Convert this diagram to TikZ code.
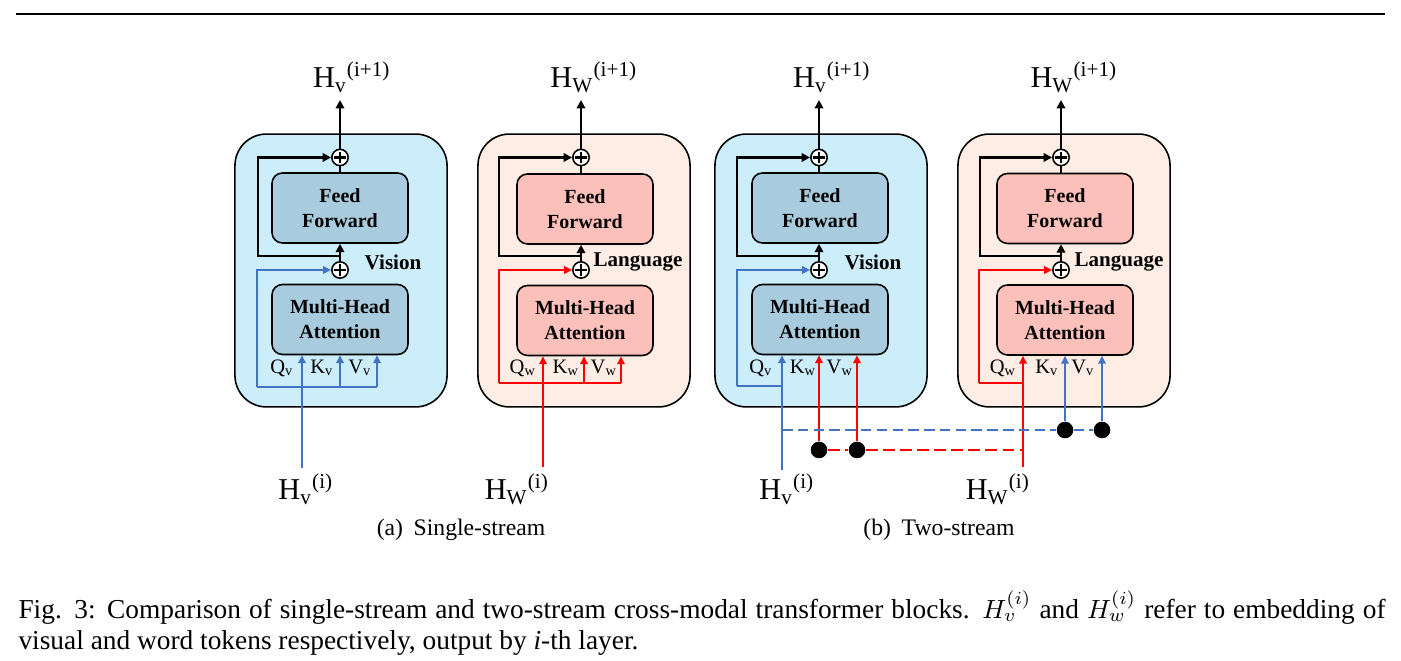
\documentclass[tikz,border=0pt]{standalone}
\usepackage[no-math]{fontspec}
\setmainfont{Liberation Serif}
\usetikzlibrary{arrows.meta, positioning, calc}
\definecolor{vsBg}{RGB}{204,237,250}
\definecolor{vsBox}{RGB}{168,204,222}
\definecolor{lgBg}{RGB}{253,237,228}
\definecolor{lgBox}{RGB}{252,192,186}
\definecolor{vsLine}{RGB}{68,114,196}
\definecolor{lgLine}{RGB}{255,0,0}
\newcommand{\hemb}[2]{H\textsubscript{#1}\textsuperscript{#2}}
\tikzset{
  outerbox/.style={rectangle, rounded corners=12pt, draw=black, line width=0.6pt,
    minimum width=80.6pt, minimum height=103.7pt, inner sep=0pt},
  visouter/.style={outerbox, fill=vsBg},
  lngouter/.style={outerbox, fill=lgBg},
  layerbox/.style={rectangle, rounded corners=4pt, draw=black, line width=0.6pt,
    minimum width=51.7pt, minimum height=26.6pt, inner sep=0pt, align=center,
    font=\fontsize{7.6}{9.5}\selectfont\bfseries},
  vislayer/.style={layerbox, fill=vsBox},
  lnglayer/.style={layerbox, fill=lgBox},
  addnode/.style={circle, draw=black, fill=white, line width=0.6pt, minimum size=6.2pt, inner sep=0pt,
    path picture={\draw[line width=0.8pt]
      ([xshift=-2.1pt]path picture bounding box.center) -- ([xshift=2.1pt]path picture bounding box.center)
      ([yshift=-2.1pt]path picture bounding box.center) -- ([yshift=2.1pt]path picture bounding box.center);}},
  dotnode/.style={circle, fill=black, minimum size=6.2pt, inner sep=0pt},
  hlabel/.style={font=\fontsize{11.5}{13}\selectfont, inner sep=1pt},
  qkvlabel/.style={font=\fontsize{7.8}{9}\selectfont, inner sep=0pt},
  tagtext/.style={font=\fontsize{8}{9}\selectfont\bfseries, inner sep=0pt},
  subcap/.style={font=\fontsize{9}{11}\selectfont, inner sep=0pt},
  blkline/.style={line width=1pt},
  blkarrow/.style={-{Triangle[length=3.2pt,width=3.2pt]}, line width=1pt},
  visline/.style={line width=0.75pt, color=vsLine},
  visarrow/.style={-{Triangle[length=3pt,width=2.8pt]}, line width=0.75pt, color=vsLine},
  lngline/.style={line width=0.75pt, color=lgLine},
  lngarrow/.style={-{Triangle[length=3pt,width=2.8pt]}, line width=0.75pt, color=lgLine},
  visdash/.style={line width=0.75pt, color=vsLine, dash pattern=on 4pt off 2pt},
  lngdash/.style={line width=0.9pt, color=lgLine, dash pattern=on 4.5pt off 2pt},
}

\begin{document}
\begin{tikzpicture}[x=0.38pt, y=-0.38pt]
\useasboundingbox (0,0) rectangle (1401,661);

%% TOP RULE
\draw[line width=0.8pt] (16,14) -- (1385,14);

%% (a) SINGLE-STREAM -- VISION
\node[visouter] (v1_blk) at (341,270.5) {};
\node[vislayer] (v1_ff)  at (340,208)   {Feed\\Forward};
\node[vislayer] (v1_mha) at (340,319.5) {Multi-Head\\Attention};
\node[addnode]  (v1_add1) at (340,270)  {};
\node[addnode]  (v1_add2) at (340,157.5) {};
\node[tagtext]  (v1_tag) at (393,262) {Vision};
\node[hlabel]   (v1_out) at (352,77)  {\hemb{v}{(i+1)}};
\node[hlabel]   (v1_in)  at (306,489) {\hemb{v}{(i)}};
\node[qkvlabel] (v1_qlab) at (282,368) {Q\textsubscript{v}};
\node[qkvlabel] (v1_klab) at (322,368) {K\textsubscript{v}};
\node[qkvlabel] (v1_vlab) at (360,368) {V\textsubscript{v}};
\coordinate (v1_top)   at (340,100);
\coordinate (v1_split) at (340,256);
\coordinate (v1_loop)  at (258,256);
\coordinate (v1_bus)   at (257,387);
\coordinate (v1_kb)    at (340,387);
\coordinate (v1_vb)    at (377,387);
\coordinate (v1_qs)    at (302,468);

%% (a) SINGLE-STREAM -- LANGUAGE
\node[lngouter] (w1_blk) at (584,270.5) {};
\node[lnglayer] (w1_ff)  at (585,209)   {Feed\\Forward};
\node[lnglayer] (w1_mha) at (585,320.5) {Multi-Head\\Attention};
\node[addnode]  (w1_add1) at (581,270)  {};
\node[addnode]  (w1_add2) at (581,157.5) {};
\node[tagtext]  (w1_tag) at (638,262) {Language};
\node[hlabel]   (w1_out) at (594,77)  {\hemb{W}{(i+1)}};
\node[hlabel]   (w1_in)  at (517,489) {\hemb{W}{(i)}};
\node[qkvlabel] (w1_qlab) at (523,368) {Q\textsubscript{w}};
\node[qkvlabel] (w1_klab) at (566,368) {K\textsubscript{w}};
\node[qkvlabel] (w1_vlab) at (604,368) {V\textsubscript{w}};
\coordinate (w1_top)   at (581,100);
\coordinate (w1_split) at (581,256);
\coordinate (w1_loop)  at (499,256);
\coordinate (w1_bus)   at (499,383);
\coordinate (w1_kb)    at (584,383);
\coordinate (w1_vb)    at (621,383);
\coordinate (w1_qs)    at (543,467);

%% (b) TWO-STREAM -- VISION
\node[visouter] (v2_blk) at (821,270.5) {};
\node[vislayer] (v2_ff)  at (820,208)   {Feed\\Forward};
\node[vislayer] (v2_mha) at (820,319.5) {Multi-Head\\Attention};
\node[addnode]  (v2_add1) at (819,270)  {};
\node[addnode]  (v2_add2) at (819,157.5) {};
\node[tagtext]  (v2_tag) at (873,262) {Vision};
\node[hlabel]   (v2_out) at (832,77)  {\hemb{v}{(i+1)}};
\node[hlabel]   (v2_in)  at (787,489) {\hemb{v}{(i)}};
\node[qkvlabel] (v2_qlab) at (761,368) {Q\textsubscript{v}};
\node[qkvlabel] (v2_klab) at (803,368) {K\textsubscript{w}};
\node[qkvlabel] (v2_vlab) at (840,368) {V\textsubscript{w}};
\node[dotnode]  (v2_kdot) at (819,450) {};
\node[dotnode]  (v2_vdot) at (857,450) {};
\coordinate (v2_top)   at (819,100);
\coordinate (v2_split) at (819,256);
\coordinate (v2_loop)  at (737,256);
\coordinate (v2_bus)   at (737,386);
\coordinate (v2_qs)    at (782,470);

%% (b) TWO-STREAM -- LANGUAGE
\node[lngouter] (w2_blk) at (1064,270.5) {};
\node[lnglayer] (w2_ff)  at (1065,208.5) {Feed\\Forward};
\node[lnglayer] (w2_mha) at (1065,320)   {Multi-Head\\Attention};
\node[addnode]  (w2_add1) at (1061,270)  {};
\node[addnode]  (w2_add2) at (1061,157.5) {};
\node[tagtext]  (w2_tag) at (1119,262) {Language};
\node[hlabel]   (w2_out) at (1074,77)  {\hemb{W}{(i+1)}};
\node[hlabel]   (w2_in)  at (998,489)  {\hemb{W}{(i)}};
\node[qkvlabel] (w2_qlab) at (1003,368) {Q\textsubscript{w}};
\node[qkvlabel] (w2_klab) at (1047,368) {K\textsubscript{v}};
\node[qkvlabel] (w2_vlab) at (1083,368) {V\textsubscript{v}};
\node[dotnode]  (w2_kdot) at (1065,430) {};
\node[dotnode]  (w2_vdot) at (1102,430) {};
\coordinate (w2_top)   at (1061,100);
\coordinate (w2_split) at (1061,256);
\coordinate (w2_loop)  at (980,256);
\coordinate (w2_bus)   at (979,383);
\coordinate (w2_qs)    at (1023,467);

%% BLACK FLOW (residual + output) -- all four blocks
\draw[blkarrow] (v1_add1.north) -- (v1_add1.north |- v1_ff.south);
\draw[blkline]  (v1_add2.south |- v1_ff.north) -- (v1_add2.south);
\draw[blkarrow] (v1_add2.north) -- (v1_top);
\draw[blkarrow] (v1_split) -- (v1_loop) |- (v1_add2.west);
\draw[blkarrow] (w1_add1.north) -- (w1_add1.north |- w1_ff.south);
\draw[blkline]  (w1_add2.south |- w1_ff.north) -- (w1_add2.south);
\draw[blkarrow] (w1_add2.north) -- (w1_top);
\draw[blkarrow] (w1_split) -- (w1_loop) |- (w1_add2.west);
\draw[blkarrow] (v2_add1.north) -- (v2_add1.north |- v2_ff.south);
\draw[blkline]  (v2_add2.south |- v2_ff.north) -- (v2_add2.south);
\draw[blkarrow] (v2_add2.north) -- (v2_top);
\draw[blkarrow] (v2_split) -- (v2_loop) |- (v2_add2.west);
\draw[blkarrow] (w2_add1.north) -- (w2_add1.north |- w2_ff.south);
\draw[blkline]  (w2_add2.south |- w2_ff.north) -- (w2_add2.south);
\draw[blkarrow] (w2_add2.north) -- (w2_top);
\draw[blkarrow] (w2_split) -- (w2_loop) |- (w2_add2.west);

%% SINGLE-STREAM INPUTS (Q, K, V from the same stream)
\draw[visarrow] (v1_bus) |- (v1_add1.west);
\draw[visline]  (v1_bus) -- (v1_vb);
\draw[visarrow] (v1_kb) -- (v1_kb |- v1_mha.south);
\draw[visarrow] (v1_vb) -- (v1_vb |- v1_mha.south);
\draw[visarrow] (v1_qs) -- (v1_qs |- v1_mha.south);
\draw[lngarrow] (w1_bus) |- (w1_add1.west);
\draw[lngline]  (w1_bus) -- (w1_vb);
\draw[lngarrow] (w1_kb) -- (w1_kb |- w1_mha.south);
\draw[lngarrow] (w1_vb) -- (w1_vb |- w1_mha.south);
\draw[lngarrow] (w1_qs) -- (w1_qs |- w1_mha.south);

%% TWO-STREAM INPUTS (K, V taken from the other stream)
\draw[visarrow] (v2_bus) |- (v2_add1.west);
\draw[visline]  (v2_bus) -- (v2_bus -| v2_qs);
\draw[visarrow] (v2_qs) -- (v2_qs |- v2_mha.south);
\draw[lngarrow] (w2_bus) |- (w2_add1.west);
\draw[lngline]  (w2_bus) -- (w2_bus -| w2_qs);
\draw[lngarrow] (w2_qs) -- (w2_qs |- w2_mha.south);
\draw[lngarrow] (v2_kdot) -- (v2_kdot |- v2_mha.south);
\draw[lngarrow] (v2_vdot) -- (v2_vdot |- v2_mha.south);
\draw[visarrow] (w2_kdot) -- (w2_kdot |- w2_mha.south);
\draw[visarrow] (w2_vdot) -- (w2_vdot |- w2_mha.south);
\draw[visdash] (v2_qs |- w2_kdot) -- (w2_kdot) -- (w2_vdot);
\draw[lngdash] (v2_kdot) -- (v2_vdot) -- (v2_vdot -| w2_qs);
\node[dotnode] at (v2_kdot) {};
\node[dotnode] at (v2_vdot) {};
\node[dotnode] at (w2_kdot) {};
\node[dotnode] at (w2_vdot) {};

%% SUB-CAPTIONS AND CAPTION
\node[subcap] (cap_a) at (461,530) {(a)\hspace{0.45em}Single-stream};
\node[subcap] (cap_b) at (939,530) {(b)\hspace{0.45em}Two-stream};
\node[anchor=north west, inner sep=0pt, text width=519.5pt, align=justify,
  font=\fontsize{10.4}{12}\selectfont] (caption) at (18,590)
  {Fig. 3: Comparison of single-stream and two-stream cross-modal transformer blocks.
   $H_v^{(i)}$ and $H_w^{(i)}$ refer to embedding of\linebreak visual and word tokens respectively,
   output by \textit{i}-th layer.};

\end{tikzpicture}
\end{document}
